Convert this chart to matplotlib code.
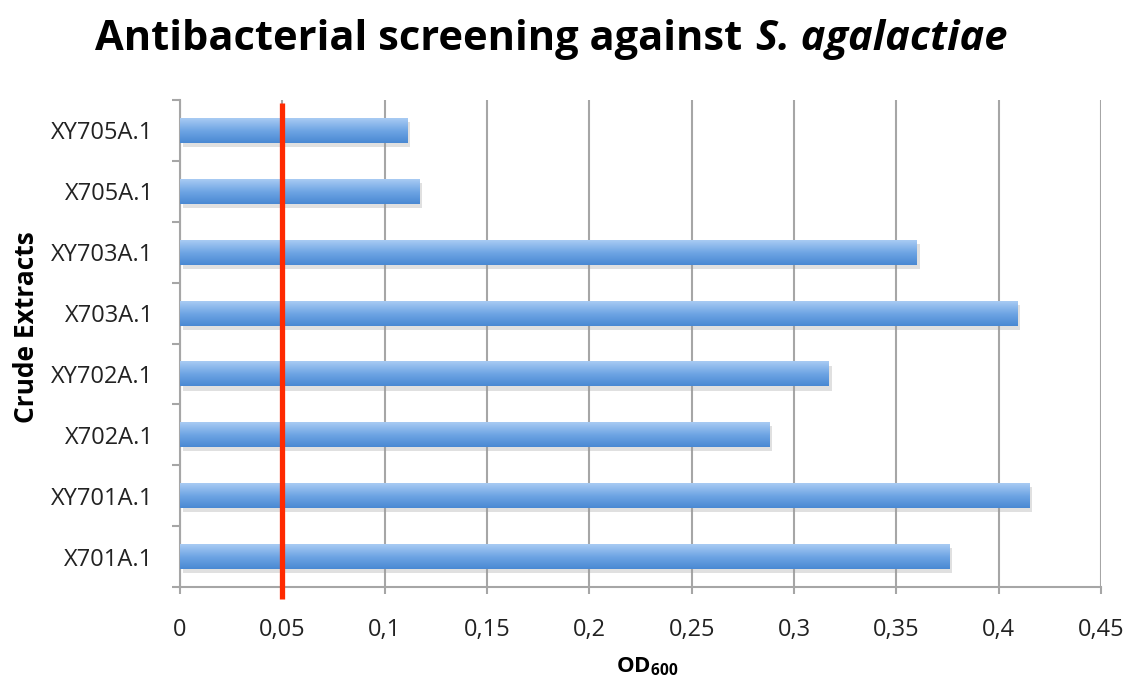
import numpy as np
import matplotlib
matplotlib.use("Agg")
import matplotlib.pyplot as plt
from matplotlib import patheffects as pe
from matplotlib.colors import LinearSegmentedColormap
from matplotlib.offsetbox import TextArea, HPacker, AnchoredOffsetbox

# Data
extracts = ["X701A.1", "XY701A.1", "X702A.1", "XY702A.1",
            "X703A.1", "XY703A.1", "X705A.1", "XY705A.1"]
od600 = [0.376, 0.415, 0.288, 0.317, 0.409, 0.360, 0.117, 0.111]
threshold = 0.05
xticks = [0, 0.05, 0.1, 0.15, 0.2, 0.25, 0.3, 0.35, 0.4, 0.45]

plt.rcParams["font.family"] = ["Open Sans", "DejaVu Sans"]
plt.rcParams["mathtext.fontset"] = "custom"
plt.rcParams["mathtext.rm"] = "Open Sans"
plt.rcParams["mathtext.bf"] = "Open Sans:bold"

fig = plt.figure(figsize=(11.29, 6.79), dpi=100)
ax = fig.add_axes([180 / 1129, 1 - 587 / 679, (1101 - 180) / 1129, (587 - 100) / 679])

grid_c = "#a6a6a6"
y = np.arange(len(extracts))
bar_h = 0.41

# Bars with soft drop shadow, filled with a vertical gradient
bars = ax.barh(y, od600, height=bar_h, color="#78aae6", zorder=3,
               path_effects=[pe.SimplePatchShadow(offset=(2, -3), shadow_rgbFace="#999999", alpha=0.3),
                             pe.Normal()])
grad = LinearSegmentedColormap.from_list("barblue", ["#4a89d3", "#6fa5e4", "#a8cbf3"])
gimg = np.linspace(0, 1, 64).reshape(-1, 1)
for b in bars:
    x0, y0 = b.get_x(), b.get_y()
    w, h = b.get_width(), b.get_height()
    im = ax.imshow(gimg, cmap=grad, aspect="auto", origin="lower",
                   extent=(x0, x0 + w, y0, y0 + h), zorder=4)
    im.set_clip_path(b)

# Threshold line
ax.axvline(threshold, ymin=-0.025, ymax=0.994, color="#ff2a00", lw=3.8,
           zorder=6, clip_on=False, solid_capstyle="butt")

ax.set_xlim(0, 0.45)
ax.set_ylim(-0.5, len(extracts) - 0.5)
ax.set_xticks(xticks)
ax.set_xticklabels([("%g" % t).replace(".", ",") for t in xticks])
ax.set_yticks(y)
ax.set_yticklabels(extracts)
ax.set_yticks(np.arange(-0.5, len(extracts)), minor=True)

ax.grid(axis="x", color=grid_c, lw=1.5, zorder=1)
for s in ["top", "right"]:
    ax.spines[s].set_visible(False)
for s in ["left", "bottom"]:
    ax.spines[s].set_color(grid_c)
    ax.spines[s].set_linewidth(1.5)

ax.tick_params(axis="y", which="major", length=0, pad=19, labelsize=17, labelcolor="#222222")
ax.tick_params(axis="y", which="minor", length=6, width=1.5, color=grid_c)
ax.tick_params(axis="x", which="major", length=5, width=1.5, color=grid_c,
               pad=17, labelsize=17, labelcolor="#222222")

ax.set_ylabel("Crude Extracts", fontsize=19, fontweight="bold")
ax.yaxis.set_label_coords(-0.152, 0.534)
ax.set_xlabel(r"$\mathbf{OD_{600}}$", fontsize=16)
ax.xaxis.set_label_coords(0.507, -0.14)

# Title with italic species name
part1 = TextArea("Antibacterial screening against",
                 textprops=dict(fontsize=30, fontweight="bold", color="black"))
part2 = TextArea("S. agalactiae",
                 textprops=dict(fontsize=30, fontweight="bold", fontstyle="italic", color="black"))
title_box = HPacker(children=[part1, part2], align="baseline", pad=0, sep=10)
anchored = AnchoredOffsetbox(loc="upper center", child=title_box, pad=0, frameon=False,
                             bbox_to_anchor=(0.488, 0.972), bbox_transform=fig.transFigure,
                             borderpad=0)
fig.add_artist(anchored)

fig.savefig("out.png", dpi=100, facecolor="white")
